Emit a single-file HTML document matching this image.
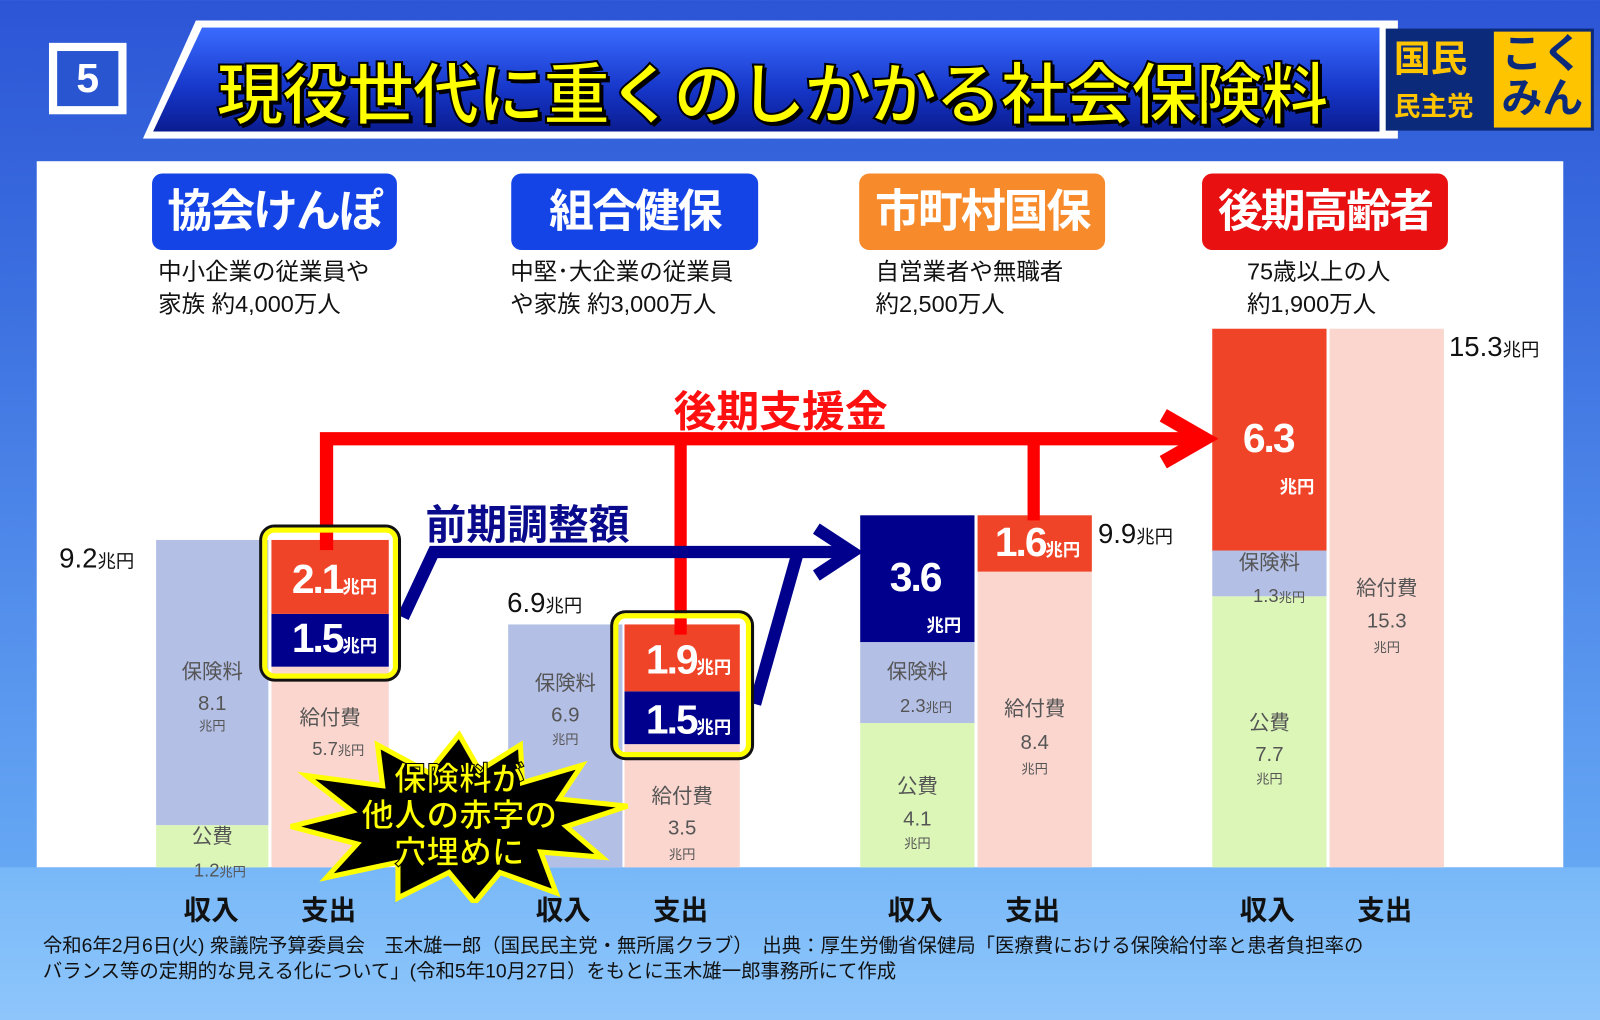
<!DOCTYPE html>
<html><head><meta charset="utf-8">
<style>
*{margin:0;padding:0;box-sizing:border-box}
body{width:1600px;height:1000px;overflow:hidden;position:relative;font-family:"Liberation Sans","Noto Sans CJK JP",sans-serif;background:linear-gradient(#2c55d6 0%,#3c70e0 30%,#5a98ef 70%,#6fb3f7 100%)}
#wrap{position:absolute;left:0;top:0;width:1568px;height:980px;transform:scale(1.020408);transform-origin:0 0}
.abs{position:absolute}
.cat{position:absolute;top:170px;height:75px;border-radius:10px;color:#fff;font-weight:bold;font-size:44px;text-align:center;line-height:75px;letter-spacing:-2px;white-space:nowrap}
.sub{position:absolute;font-size:23px;color:#111;line-height:32px}
.t{position:absolute;font-size:20px;color:#555;text-align:center}
.u{font-size:13px}
.tot{position:absolute;font-size:27px;color:#111}
.tot span{font-size:18px}
.big{position:absolute;color:#fff;font-weight:bold;font-size:40px;letter-spacing:-2px}
.big span{font-size:17px;letter-spacing:0}
.xl{position:absolute;top:870px;font-size:27px;font-weight:bold;color:#111}
.box{position:absolute;border:5px solid #ffff00;border-radius:12px;box-shadow:0 0 0 3px #111}
</style></head><body>
<div id="wrap">
<div class="abs" style="left:140px;top:20px;width:1230px;height:116px;background:#fff;clip-path:polygon(52px 0,100% 0,100% 100%,0 100%)"></div>
<div class="abs" style="left:150px;top:27px;width:1202px;height:102px;background:linear-gradient(#3a6cff,#1636c8 60%,#0a1c90);clip-path:polygon(48px 0,100% 0,100% 100%,0 100%)"></div>
<div class="abs" style="left:48px;top:42px;width:76px;height:70px;background:#fff;"><div style="position:absolute;left:8px;top:8px;width:60px;height:54px;background:#2a55d0;color:#fff;font-size:40px;font-weight:bold;text-align:center;line-height:54px">5</div></div>
<div class="abs" style="left:212px;top:40px;font-size:66px;font-weight:bold;color:#ffff00;-webkit-text-stroke:2px #000;text-shadow:3px 3px 0 #000;letter-spacing:-2px;white-space:nowrap">現役世代に重くのしかかる社会保険料</div>
<div class="abs" style="left:1358px;top:28px;width:204px;height:100px;background:#0c2a7a">
 <div style="position:absolute;left:8px;top:10px;color:#ffc400;font-weight:bold;font-size:36px;line-height:40px">国民</div>
 <div style="position:absolute;left:8px;top:56px;color:#ffc400;font-weight:bold;font-size:26px">民主党</div>
 <div style="position:absolute;left:106px;top:3px;width:95px;height:94px;background:#ffc400;color:#0c2a7a;font-weight:bold;font-size:40px;line-height:44px;text-align:center">こく<br>みん</div>
</div>
<div class="abs" style="left:36px;top:158px;width:1496px;height:692px;background:#fff"></div>
<div class="abs" style="left:0;top:850px;width:1600px;height:150px;background:linear-gradient(#78b8f8,#8ec6fb)"></div>

<div class="cat" style="left:149px;width:240px;background:#1444e6">協会けんぽ</div>
<div class="cat" style="left:501px;width:242px;background:#1444e6">組合健保</div>
<div class="cat" style="left:842px;width:241px;background:#f78a2a">市町村国保</div>
<div class="cat" style="left:1178px;width:241px;background:#e81010">後期高齢者</div>
<div class="sub" style="left:155px;top:250px">中小企業の従業員や<br>家族 約4,000万人</div>
<div class="sub" style="left:500px;top:250px">中堅･大企業の従業員<br>や家族 約3,000万人</div>
<div class="sub" style="left:858px;top:250px">自営業者や無職者<br>約2,500万人</div>
<div class="sub" style="left:1222px;top:250px">75歳以上の人<br>約1,900万人</div>

<svg class="abs" style="left:0;top:0" width="1600" height="1000" id="chart"></svg>

<div class="tot" style="left:58px;top:532px">9.2<span>兆円</span></div>
<div class="tot" style="left:497px;top:576px">6.9<span>兆円</span></div>
<div class="tot" style="left:1076px;top:508px">9.9<span>兆円</span></div>
<div class="tot" style="left:1420px;top:325px">15.3<span>兆円</span></div>

<div class="t" style="left:153px;top:642px;width:110px">保険料</div>
<div class="t" style="left:153px;top:680px;width:110px;line-height:20px">8.1<br><span class="u">兆円</span></div>
<div class="t" style="left:153px;top:803px;width:110px">公費</div>
<div class="t" style="left:190px;top:843px;font-size:18px">1.2<span class="u">兆円</span></div>
<div class="t" style="left:266px;top:687px;width:115px">給付費</div>
<div class="t" style="left:306px;top:724px;font-size:18px">5.7<span class="u">兆円</span></div>
<div class="t" style="left:498px;top:653px;width:112px">保険料</div>
<div class="t" style="left:498px;top:690px;width:112px;line-height:22px">6.9<br><span class="u">兆円</span></div>
<div class="t" style="left:612px;top:764px;width:113px">給付費</div>
<div class="t" style="left:612px;top:800px;width:113px;line-height:24px">3.5<br><span class="u">兆円</span></div>
<div class="t" style="left:843px;top:642px;width:112px">保険料</div>
<div class="t" style="left:882px;top:682px;font-size:18px">2.3<span class="u">兆円</span></div>
<div class="t" style="left:843px;top:754px;width:112px">公費</div>
<div class="t" style="left:843px;top:792px;width:112px;line-height:22px">4.1<br><span class="u">兆円</span></div>
<div class="t" style="left:958px;top:678px;width:112px">給付費</div>
<div class="t" style="left:958px;top:716px;width:112px;line-height:24px">8.4<br><span class="u">兆円</span></div>
<div class="t" style="left:1188px;top:535px;width:112px">保険料</div>
<div class="t" style="left:1228px;top:574px;font-size:18px">1.3<span class="u">兆円</span></div>
<div class="t" style="left:1188px;top:692px;width:112px">公費</div>
<div class="t" style="left:1188px;top:729px;width:112px;line-height:22px">7.7<br><span class="u">兆円</span></div>
<div class="t" style="left:1303px;top:560px;width:112px">給付費</div>
<div class="t" style="left:1303px;top:597px;width:112px;line-height:24px">15.3<br><span class="u">兆円</span></div>

<div class="box" style="left:257px;top:517px;width:133px;height:148px"></div>
<div class="box" style="left:601px;top:601px;width:135px;height:141px"></div>
<div class="big" style="left:286px;top:546px">2.1<span>兆円</span></div>
<div class="big" style="left:286px;top:604px">1.5<span>兆円</span></div>
<div class="big" style="left:633px;top:625px">1.9<span>兆円</span></div>
<div class="big" style="left:633px;top:684px">1.5<span>兆円</span></div>
<div class="big" style="left:872px;top:546px;line-height:40px">3.6<br><span style="margin-left:36px">兆円</span></div>
<div class="big" style="left:975px;top:510px">1.6<span>兆円</span></div>
<div class="big" style="left:1218px;top:410px;line-height:40px">6.3<br><span style="margin-left:36px">兆円</span></div>

<div class="abs" style="left:660px;top:370px;font-size:42px;font-weight:bold;color:#ff1010">後期支援金</div>
<div class="abs" style="left:417px;top:482px;font-size:40px;font-weight:bold;color:#0a0a8c">前期調整額</div>

<svg class="abs" style="left:280px;top:715px" width="340" height="170">
<polygon points="170,5 190,40 230,15 232,52 290,35 268,68 335,75 275,95 310,125 250,120 265,160 210,140 185,170 160,140 110,165 110,130 40,145 70,112 5,95 65,80 20,45 95,55 90,15 140,42" fill="#000" stroke="#ffff00" stroke-width="5"/>
</svg>
<div class="abs" style="left:330px;top:745px;width:240px;text-align:center;font-size:32px;line-height:36px;font-weight:bold;color:#ffff00;-webkit-text-stroke:1px #000">保険料が<br>他人の赤字の<br>穴埋めに</div>

<div class="xl" style="left:180px">収入</div>
<div class="xl" style="left:295px">支出</div>
<div class="xl" style="left:525px">収入</div>
<div class="xl" style="left:640px">支出</div>
<div class="xl" style="left:870px">収入</div>
<div class="xl" style="left:985px">支出</div>
<div class="xl" style="left:1215px">収入</div>
<div class="xl" style="left:1330px">支出</div>
<div class="abs" style="left:42px;top:915px;font-size:19px;line-height:25px;color:#111;white-space:nowrap">令和6年2月6日(火) 衆議院予算委員会　玉木雄一郎（国民民主党・無所属クラブ）　出典：厚生労働省保健局「医療費における保険給付率と患者負担率の<br>バランス等の定期的な見える化について」(令和5年10月27日）をもとに玉木雄一郎事務所にて作成</div>
</div>
<script>
const bars = ["協会けんぽ収入","協会けんぽ支出","組合健保収入","組合健保支出","市町村国保収入","市町村国保支出","後期高齢者収入","後期高齢者支出"];
const koufei   = [1.2, 0, 0, 0, 4.1, 0, 7.7, 0];
const hokenryo = [8.1, 0, 6.9, 0, 2.3, 0, 1.3, 0];
const kyufu    = [0, 5.7, 0, 3.5, 0, 8.4, 0, 15.3];
const zenki    = [0, 1.5, 0, 1.5, 3.6, 0, 0, 0];
const shienkin = [0, 2.1, 0, 1.9, 0, 1.6, 6.3, 0];
const xs = [153,266,498,612,843,958,1188,1303];
const W = [110,115,112,113,112,112,112,112];
const base = 850, k = 34.5;
const y = v => base - v*k;
const svg = document.getElementById('chart');
const NS = 'http://www.w3.org/2000/svg';
const series = [[koufei,'#dcf6b8'],[hokenryo,'#b4bfe6'],[kyufu,'#fad6cf'],[zenki,'#00008c'],[shienkin,'#f04428']];
const tops = [];
bars.forEach((b,i)=>{
  let acc = 0;
  series.forEach(([arr,col])=>{
    const v = arr[i]; if(!v) return;
    const r = document.createElementNS(NS,'rect');
    
    
    r.setAttribute('x',xs[i]); r.setAttribute('width',W[i]);
    r.setAttribute('y',y(acc+v)); r.setAttribute('height',v*k);
    r.setAttribute('fill',col);
    svg.appendChild(r);
    acc += v;
  });
  tops.push(y(acc));
});
function path(d,col,w,name){
  const p=document.createElementNS(NS,'path');
  
  
  p.setAttribute('d',d);p.setAttribute('stroke',col);p.setAttribute('stroke-width',w);p.setAttribute('fill','none');
  svg.appendChild(p);
}
path(`M320 ${tops[1]+10} V430 H1175`,'#ff0000',13,'shienkin-arrow-line');
path(`M667 ${tops[3]+10} V430`,'#ff0000',12,'shienkin-arrow-branch');
path(`M1013 ${tops[5]+5} V430`,'#ff0000',12,'shienkin-arrow-branch');
path('M1140 407 L1180 430 L1140 453','#ff0000',14,'shienkin-arrowhead');
path('M395 605 L425 541 H830','#00008c',12,'zenki-arrow-line');
path('M740 690 L782 541','#00008c',12,'zenki-arrow-branch');
path('M800 518 L835 541 L800 564','#00008c',12,'zenki-arrowhead');
</script>
</body></html>
